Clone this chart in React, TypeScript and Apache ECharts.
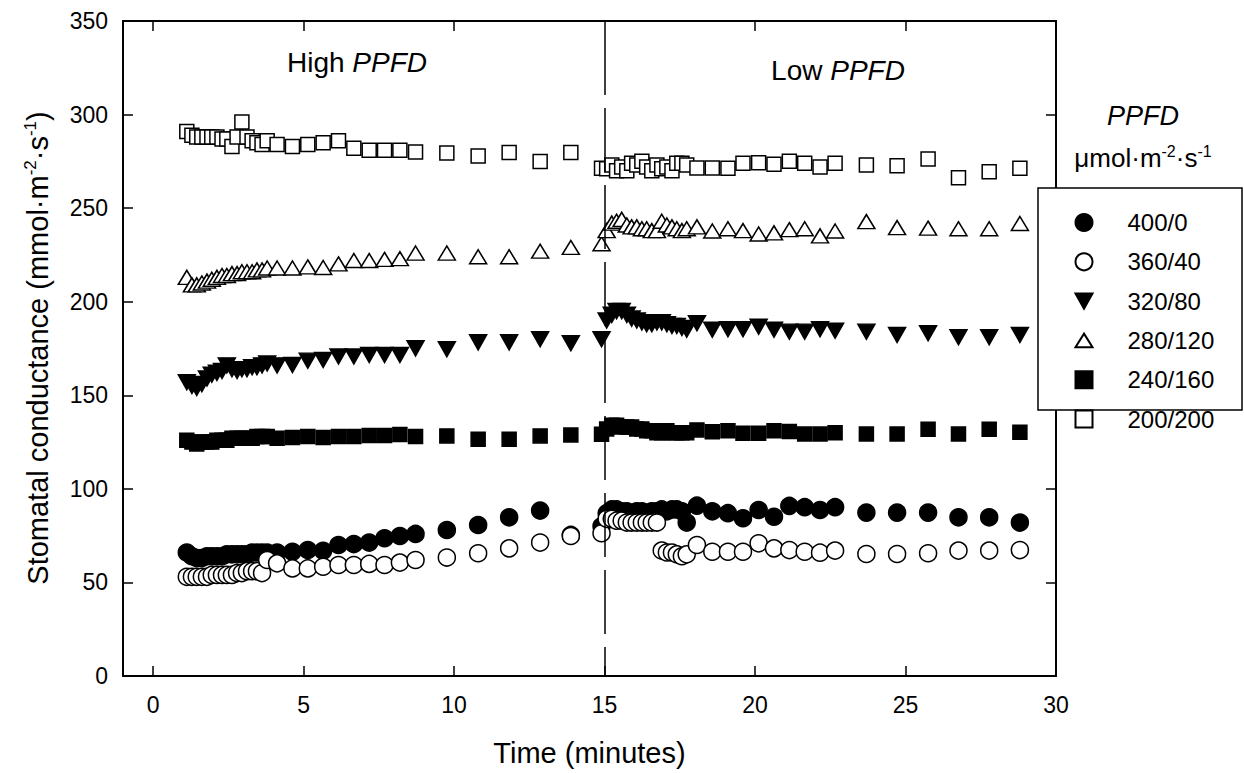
import React, { useEffect, useRef } from "react";
import * as echarts from "echarts";

// Time (minutes) for every measurement
const time = [
  1.12, 1.29, 1.45, 1.62, 1.79, 1.95, 2.12, 2.29, 2.45, 2.62, 2.79, 2.95, 3.12, 3.29, 3.45, 3.62, 3.79,
  4.12, 4.63, 5.14, 5.65, 6.16, 6.67, 7.18, 7.69, 8.2, 8.72,
  9.76, 10.8, 11.83, 12.86, 13.88, 14.9,
  15.07, 15.24, 15.4, 15.57, 15.74, 15.9, 16.07, 16.24, 16.4, 16.57, 16.74, 16.9, 17.07, 17.24, 17.4, 17.57, 17.73,
  18.07, 18.58, 19.1, 19.6, 20.12, 20.63, 21.14, 21.65, 22.16, 22.66,
  23.7, 24.72, 25.75, 26.76, 27.78, 28.8,
];

const s400_0 = [
  66, 64, 63, 63, 64, 64, 64, 64, 65, 65, 65, 65, 65, 66, 66, 66, 66,
  66, 66.4, 67.3, 66.9, 70, 70.5, 71.3, 73.6, 74.8, 75.9,
  78, 80.7, 84.8, 88.4, 75.4, 80,
  87, 89, 89, 88, 88, 87, 88, 88, 87, 88, 88, 89, 88, 89, 89, 88, 82,
  91, 88, 87, 84.3, 88.7, 85.1, 90.9, 90.2, 88.7, 90.2,
  87.3, 87.3, 87.3, 84.8, 84.8, 82,
];
const s360_40 = [
  53, 53, 53, 53, 53, 54, 54, 54, 54, 54, 55, 55, 56, 56, 56, 55, 62,
  60.2, 57.5, 57.5, 58.4, 59.3, 59.3, 59.9, 59.3, 60.6, 62,
  63.3, 65.6, 68.2, 71.3, 74.8, 76.3,
  84, 84, 83, 83, 82, 82, 82, 82, 82, 82, 82, 67, 66, 66, 65, 64, 65,
  70, 66.4, 66.4, 66.4, 70.9, 68.2, 67.3, 66.4, 65.9, 67,
  65.2, 65.2, 65.6, 67, 67, 67.3,
];
const s320_80 = [
  157, 155, 154, 156, 159, 161, 162, 163, 166, 164, 163, 164, 164, 165, 165, 166, 167,
  166, 166.2, 168.5, 168.9, 170.7, 170.7, 171.6, 171.6, 171.6, 175.1,
  174.6, 178.3, 178.3, 180, 177.8, 180,
  190, 193, 195, 195, 193, 191, 190, 189, 188, 188, 189, 189, 188, 187, 187, 186, 185,
  188.5, 185, 185.3, 185.3, 186.7, 185, 184, 184, 185.3, 184.5,
  184, 182.3, 183.2, 181, 181, 182.3,
];
const s280_120 = [
  213, 209, 209, 210, 211, 212, 213, 214, 214, 215, 215, 216, 216, 216, 217, 217, 218,
  218, 218, 218.6, 218.3, 220.2, 222, 222, 222.6, 223, 226,
  226, 224, 224, 227, 229, 231,
  238, 242, 243, 244, 241, 240, 240, 239, 239, 238, 238, 243, 241, 240, 239, 238, 239,
  240, 237.8, 239, 238, 236.2, 236.8, 238.5, 239, 235.2, 237.8,
  242.8, 239.6, 239.3, 239, 239, 241.8,
];
const s240_160 = [
  126, 125, 124, 125, 125, 125, 126, 126, 126, 127, 127, 127, 127, 127, 128, 128, 128,
  127, 127.5, 128, 127.5, 128, 128, 128.5, 128.5, 129, 128,
  128.3, 126.5, 126.5, 128.3, 128.8, 129.2,
  132, 134, 134, 133, 133, 133, 132, 132, 131, 131, 130, 130, 131, 130, 130, 130, 130,
  131.5, 130.5, 131.1, 129.7, 129.7, 131.1, 130.6, 129.3, 129.3, 130,
  129.3, 129.3, 131.8, 129.3, 131.8, 130.2,
];
const s200_200 = [
  291, 289, 288, 288, 288, 288, 288, 287, 287, 283, 288, 296, 288, 286, 285, 284, 286,
  284, 283, 284, 285, 286, 282, 281, 281, 281, 280,
  279.4, 277.9, 279.7, 274.9, 279.7, 271.3,
  271, 273, 270, 272, 270, 274, 273, 275, 272, 270, 273, 271, 272, 270, 274, 274, 273,
  271.5, 271.5, 271.3, 274, 274.3, 273.5, 275, 274, 272, 274,
  273, 272.6, 276.2, 266.3, 269.5, 271.3,
];

const seriesNames = ["400/0", "360/40", "320/80", "280/120", "240/160", "200/200"];
const seriesValues = [s400_0, s360_40, s320_80, s280_120, s240_160, s200_200];
const xTicks = [0, 5, 10, 15, 20, 25, 30];
const switchTime = 15;

const FONT = "'Liberation Sans', Arial, sans-serif";
const DOWN_TRI = "path://M0,0 L20,0 L10,18 Z";
const UP_TRI = "path://M10,0 L20,16 L0,16 Z";
const SQUARE = "path://M0,0 L10,0 L10,10 L0,10 Z";

const styles = [
  { symbol: "circle", size: 17, fill: "#000" },
  { symbol: "circle", size: 17, fill: "#fff" },
  { symbol: DOWN_TRI, size: [17, 15], fill: "#000" },
  { symbol: UP_TRI, size: [17, 14], fill: "#fff" },
  { symbol: SQUARE, size: 14, fill: "#000" },
  { symbol: SQUARE, size: 14, fill: "#fff" },
];

export default function App() {
  const ref = useRef<HTMLDivElement>(null);
  useEffect(() => {
    if (!ref.current) return;
    const chart = echarts.init(ref.current, null, { renderer: "svg" });

    const series: any[] = seriesNames.map((name, i) => {
      const st = styles[i];
      const s: any = {
        name,
        type: "scatter",
        symbol: st.symbol,
        symbolSize: st.size,
        data: time.map((t, j) => [t, seriesValues[i][j]]),
        itemStyle: { color: st.fill, borderColor: "#000", borderWidth: 1.5, opacity: 1 },
        emphasis: { disabled: true },
        z: 2 + i * 0.01,
      };
      if (i === 0) {
        s.markLine = {
          silent: true,
          symbol: ["none", "none"],
          label: { show: false },
          lineStyle: { color: "#000", width: 1.5, type: [64, 13], dashOffset: 35 },
          emphasis: { disabled: true },
          data: [{ xAxis: switchTime }],
        };
      }
      return s;
    });

    const tickCommon = { show: true, inside: true, length: 10, lineStyle: { color: "#000", width: 1.5 }, customValues: xTicks };
    const lineCommon = { show: true, lineStyle: { color: "#000", width: 2 } };

    chart.setOption({
      animation: false,
      backgroundColor: "#fff",
      grid: { left: 123, right: 188, top: 21, bottom: 97, containLabel: false, outerBoundsMode: "none" },
      xAxis: [
        {
          type: "value",
          min: -1,
          max: 30,
          position: "bottom",
          axisLine: { ...lineCommon, onZero: false },
          axisTick: tickCommon,
          axisLabel: { customValues: xTicks, fontSize: 23, color: "#000", fontFamily: FONT, margin: 17 },
          splitLine: { show: false },
          name: "Time (minutes)",
          nameLocation: "middle",
          nameGap: 62,
          nameTextStyle: { fontSize: 29, color: "#000", fontFamily: FONT },
        },
        {
          type: "value",
          min: -1,
          max: 30,
          position: "top",
          axisLine: { ...lineCommon, onZero: false },
          axisTick: tickCommon,
          axisLabel: { show: false },
          splitLine: { show: false },
        },
      ],
      yAxis: [
        {
          type: "value",
          min: 0,
          max: 350,
          interval: 50,
          position: "left",
          axisLine: { ...lineCommon, onZero: false },
          axisTick: { show: true, inside: true, length: 10, lineStyle: { color: "#000", width: 1.5 } },
          axisLabel: { fontSize: 23, color: "#000", fontFamily: FONT, margin: 15 },
          splitLine: { show: false },
        },
        {
          type: "value",
          min: 0,
          max: 350,
          interval: 50,
          position: "right",
          axisLine: { ...lineCommon, onZero: false },
          axisTick: { show: true, inside: true, length: 10, lineStyle: { color: "#000", width: 1.5 } },
          axisLabel: { show: false },
          splitLine: { show: false },
        },
      ],
      legend: {
        orient: "vertical",
        left: 1074.5,
        top: 210.5,
        padding: 0,
        itemWidth: 17,
        itemHeight: 17,
        itemGap: 15.3,
        selectedMode: false,
        z: 20,
        formatter: "{t|{name}}",
        textStyle: {
          fontSize: 24,
          color: "#000",
          fontFamily: FONT,
          lineHeight: 17,
          rich: { t: { fontSize: 24, color: "#000", fontFamily: FONT, lineHeight: 17, padding: [0, 0, 0, 30] } },
        },
        data: seriesNames,
      },
      graphic: [
        {
          type: "rect",
          z: 10,
          shape: { x: 1038, y: 188, width: 204, height: 222 },
          style: { fill: "#fff", stroke: "#000", lineWidth: 1.5 },
        },
        {
          type: "text",
          z: 10,
          x: 38,
          y: 348,
          rotation: Math.PI / 2,
          style: {
            text: "Stomatal conductance (mmol·m{sup|-2}·s{sup|-1})",
            fontSize: 29,
            fontFamily: FONT,
            fill: "#000",
            align: "center",
            verticalAlign: "middle",
            lineHeight: 32,
            rich: { sup: { fontSize: 17, fontFamily: FONT, fill: "#000", verticalAlign: "top", lineHeight: 17 } },
          },
        },
        {
          type: "text",
          z: 10,
          x: 357,
          y: 62,
          style: {
            text: "High {i|PPFD}",
            fontSize: 28,
            fontFamily: FONT,
            fill: "#000",
            align: "center",
            verticalAlign: "middle",
            rich: { i: { fontSize: 28, fontFamily: FONT, fontStyle: "italic", fill: "#000" } },
          },
        },
        {
          type: "text",
          z: 10,
          x: 838,
          y: 70,
          style: {
            text: "Low {i|PPFD}",
            fontSize: 28,
            fontFamily: FONT,
            fill: "#000",
            align: "center",
            verticalAlign: "middle",
            rich: { i: { fontSize: 28, fontFamily: FONT, fontStyle: "italic", fill: "#000" } },
          },
        },
        {
          type: "text",
          z: 10,
          x: 1143,
          y: 116,
          style: {
            text: "PPFD",
            fontSize: 27,
            fontStyle: "italic",
            fontFamily: FONT,
            fill: "#000",
            align: "center",
            verticalAlign: "middle",
          },
        },
        {
          type: "text",
          z: 10,
          x: 1143,
          y: 158,
          style: {
            text: "μmol·m{sup|-2}·s{sup|-1}",
            fontSize: 26,
            fontFamily: FONT,
            fill: "#000",
            align: "center",
            verticalAlign: "middle",
            lineHeight: 30,
            rich: { sup: { fontSize: 16, fontFamily: FONT, fill: "#000", verticalAlign: "top", lineHeight: 16 } },
          },
        },
      ],
      series,
    });
    return () => chart.dispose();
  }, []);

  return (
    <div
      ref={ref}
      style={{ position: "absolute", left: 0, top: 0, width: 1244, height: 773, background: "#fff" }}
    />
  );
}
